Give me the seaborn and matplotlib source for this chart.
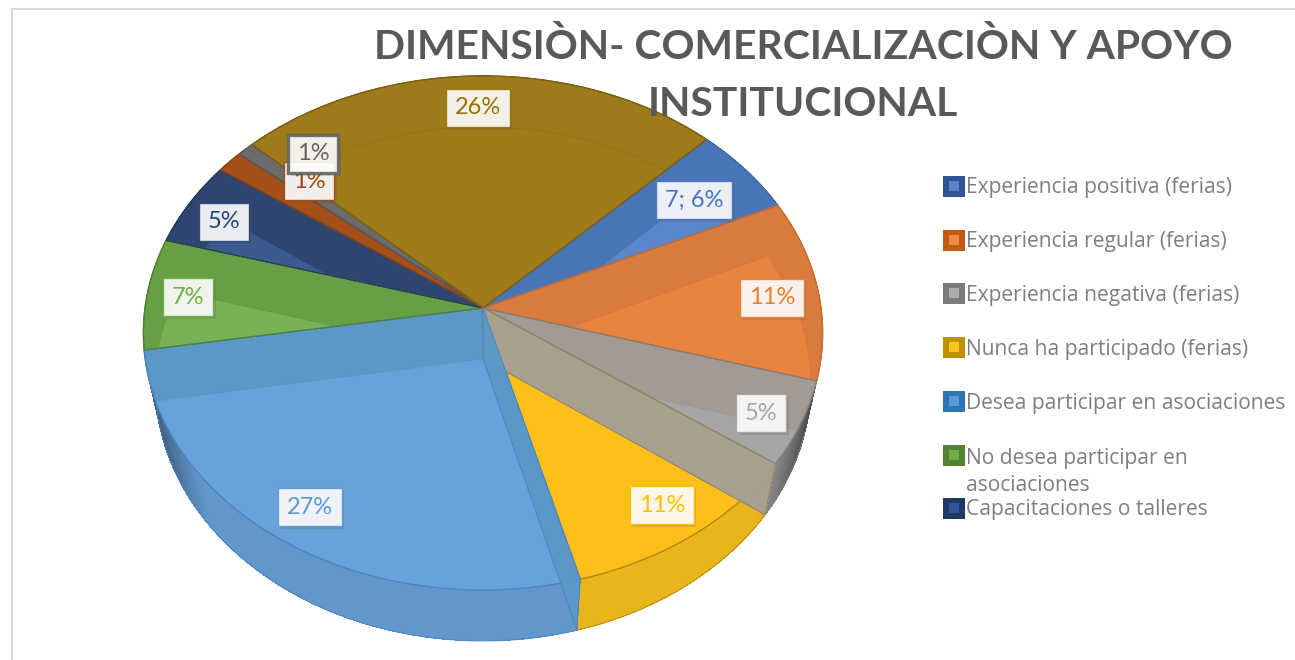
import numpy as np
import matplotlib
matplotlib.use("Agg")
import matplotlib.pyplot as plt
import seaborn as sns
from matplotlib.collections import PolyCollection
from matplotlib.patches import Polygon, Rectangle
from matplotlib.patheffects import withSimplePatchShadow
from matplotlib.colors import to_rgb, to_rgba

# ---------- data ----------
title_lines = ["DIMENSIÒN- COMERCIALIZACIÒN Y APOYO", "INSTITUCIONAL"]
categories = ["Experiencia positiva (ferias)", "Experiencia regular (ferias)",
              "Experiencia negativa (ferias)", "Nunca ha participado (ferias)",
              "Desea participar en asociaciones", "No desea participar en\nasociaciones",
              "Capacitaciones o talleres", "Serie 8", "Serie 9", "Serie 10"]
values = [5.6, 11.4, 5.3, 11.0, 26.6, 7.0, 5.3, 1.4, 0.9, 25.5]
value_labels = ["7; 6%", "11%", "5%", "11%", "27%", "7%", "5%", "1%", "1%", "26%"]
n_legend = 7

# ---------- styles ----------
light = ["#5A86CC", "#E8843F", "#A5A5A5", "#FEC018", "#69A2DB", "#77B255", "#3A5A90", "#BD6030", "#808080", "#A07B19"]
dark = ["#4A76B8", "#D97A3E", "#A39B93", "#FEC018", "#5B98C8", "#66A044", "#2E4570", "#A5501A", "#6B6B6B", "#9E7A1A"]
line = ["#3F6AA8", "#C96F30", "#85807A", "#B48A10", "#4A86C4", "#4F8234", "#26395C", "#8E4412", "#5A5A5A", "#7E6112"]
rim = ["#4A76B8", "#D97A3E", "#9A9A9A", "#E8B51C", "#6397CC", "#66A044", "#2E4570", "#A5501A", "#6B6B6B", "#9E7A1A"]
rim_dark = [0.3, 0.3, 0.62, 0.08, 0.5, 0.3, 0.3, 0.3, 0.3, 0.3]
text_col = ["#4472C4", "#ED7D31", "#A5A5A5", "#FFC000", "#5B9BD5", "#70AD47", "#264478", "#9E480E", "#636363", "#997300"]
legend_outer = ["#2F5597", "#C55A11", "#7B7B7B", "#BF9000", "#2E75B6", "#548235", "#1F3864"]
legend_inner = ["#5B84CC", "#EE8A44", "#ABABAB", "#FFC41F", "#5B9BD5", "#70AD47", "#2F5597"]
label_xy = [(694, 200), (772, 298), (761, 413), (662, 505), (310, 507), (188, 297), (224, 222), (309, 181), (313, 154), (478, 108)]
legend_y = [186, 240, 293, 347, 401, 455, 508]
legend_text_y = [188, 242, 295, 349, 403, 472, 510]

CX, CY, RX, RY, K = 483, 308, 338, 254.6, 0.097
SHIFT, SHRINK = 51, 0.965


def project(theta_deg, r=1.0):
    t = np.radians(np.asarray(theta_deg, dtype=float))
    x, y = r * np.cos(t), r * np.sin(t)
    d = 1 + K * y
    return np.column_stack([CX + RX * x / d, CY - RY * y / d])


def lower(pts):
    pts = np.asarray(pts, dtype=float)
    return np.column_stack([CX + SHRINK * (pts[:, 0] - CX), pts[:, 1] + SHIFT])


sns.set_theme(style="white")
plt.rcParams["font.family"] = ["Lato", "DejaVu Sans"]
fig, ax = plt.subplots(figsize=(12.95, 6.6), dpi=100)
fig.subplots_adjust(0, 0, 1, 1)

# the library computes the slice angles from the values
wedges, _ = ax.pie(values, startangle=45, counterclock=False, radius=1)
angles = [(w.theta1, w.theta2) for w in wedges]
for w in wedges:
    w.remove()
ax.set_aspect("auto")
ax.set_xlim(0, 1295)
ax.set_ylim(660, 0)
ax.axis("off")

# chart frame
ax.plot([11.5, 11.5, 1295], [660, 9, 9], color="#D9D9D9", lw=1.5, zorder=0)

# outer rim, shaded towards the silhouette
for i, (t1, t2) in enumerate(angles):
    n = max(4, int(t2 - t1))
    ts = np.linspace(t1, t2, n + 1)
    top = project(ts)
    bot = lower(top)
    base = np.array(to_rgb(rim[i]))
    ax.add_patch(Polygon(np.vstack([top, bot[::-1]]), closed=True, facecolor=base, edgecolor="none", zorder=0.9))
    polys, cols = [], []
    for j in range(n):
        polys.append([top[j], top[j + 1], bot[j + 1], bot[j]])
        mx = abs(np.cos(np.radians((ts[j] + ts[j + 1]) / 2)))
        shade = 1 - rim_dark[i] * np.clip((mx - 0.78) / 0.22, 0, 1)
        cols.append(base * shade)
    ax.add_collection(PolyCollection(polys, facecolors=cols, edgecolors="none", antialiaseds=False, zorder=1))

# bottom silhouette outline
for i, (t1, t2) in enumerate(angles):
    arc = lower(project(np.linspace(t1, t2, 80)))
    if np.sin(np.radians((t1 + t2) / 2)) < 0:
        ax.plot(arc[:, 0], arc[:, 1], color=line[i], lw=0.8, alpha=0.8, zorder=1.5)

# top faces: darker base with the lighter part over the lower disc
for i, (t1, t2) in enumerate(angles):
    arc = project(np.linspace(t1, t2, 120))
    pts = np.vstack([[CX, CY], arc])
    face = Polygon(pts, closed=True, facecolor=dark[i], edgecolor=line[i], lw=0.9, zorder=2)
    ax.add_patch(face)
    over = Polygon(lower(pts), closed=True, facecolor=light[i], edgecolor=to_rgba(line[i], 0.3), lw=0.6, zorder=2.1)
    ax.add_patch(over)
    over.set_clip_path(face)
    edge = Polygon(pts, closed=True, fill=False, edgecolor=line[i], lw=0.9, zorder=2.2)
    ax.add_patch(edge)

# translucent radial cut faces
for i, theta, colour, alpha in [(2, angles[2][0], "#A39F92", 0.96), (4, angles[4][1], "#5B98C8", 0.95)]:
    p = project([theta])
    c = np.array([[CX, CY]])
    quad = np.vstack([c, p, lower(p), lower(c)])
    ax.add_patch(Polygon(quad, closed=True, facecolor=colour, edgecolor=to_rgba(line[i], 0.6), lw=0.7, alpha=alpha, zorder=3))

# data labels
order = [0, 1, 2, 3, 4, 5, 6, 7, 9, 8]
for z, i in enumerate(order):
    x, y = label_xy[i]
    thick = 2.4 if i == 8 else 1.0
    t = ax.text(x, y, value_labels[i], color=text_col[i], fontsize=17, ha="center", va="center",
                zorder=5 + z * 0.1,
                bbox=dict(boxstyle="square,pad=0.36", facecolor="white", alpha=0.9,
                          edgecolor=text_col[i], lw=thick))
    t.get_bbox_patch().set_path_effects([withSimplePatchShadow(offset=(2, -2), alpha=0.18)])

# legend
for i in range(n_legend):
    y = legend_y[i]
    ax.add_patch(Rectangle((943, y - 10.5), 22, 21, facecolor=legend_outer[i], edgecolor="none", zorder=5))
    ax.add_patch(Rectangle((949, y - 5), 10, 10, facecolor=legend_inner[i], edgecolor="none", zorder=6))
    ax.text(966, legend_text_y[i], categories[i], color="#7F7F7F", fontsize=15.1, family="Open Sans",
            ha="left", va="center", linespacing=1.32, zorder=6)

# title
for txt, y in zip(title_lines, [47, 104]):
    ax.text(803, y, txt, color="#595959", fontsize=29.4, fontweight="bold", ha="center", va="center", zorder=7)

fig.savefig("out.png", dpi=100, facecolor="white")
